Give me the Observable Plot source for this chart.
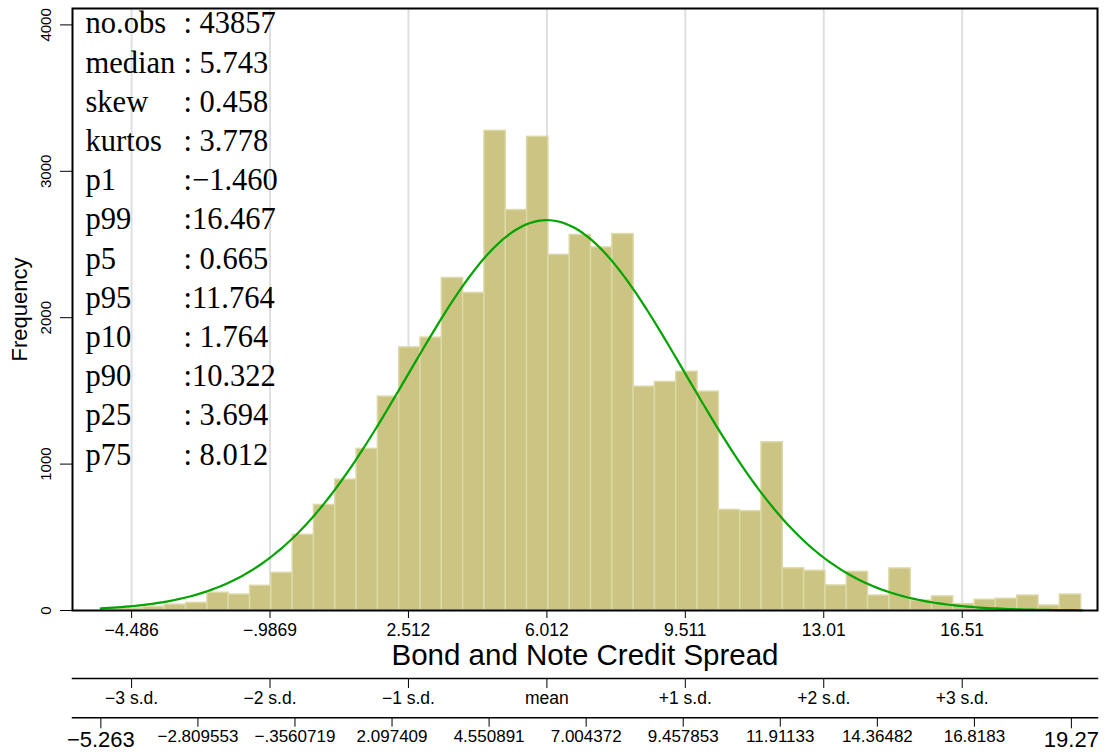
<!DOCTYPE html>
<html><head><meta charset="utf-8">
<script src="https://cdn.jsdelivr.net/npm/d3@7"></script>
<script src="https://cdn.jsdelivr.net/npm/@observablehq/plot@0.6"></script>
<style>
body{margin:0;background:#fff;overflow:hidden}
#chart svg{display:block}
</style></head><body><div id="chart"></div>
<script>
// ---- data ----
const binCounts = [8, 15, 25, 40, 52, 121, 109, 169, 257, 517, 721, 894, 1104, 1461, 1797, 1864,
  2271, 2169, 3276, 2735, 3235, 2429, 2565, 2480, 2571, 1529, 1561, 1631, 1495, 687, 678, 1149,
  288, 271, 171, 264, 102, 287, 68, 96, 44, 73, 80, 102, 34, 109];
const binStart = -5.263;
const binWidth = 0.5387;
const nObs = 43857;
const meanValue = 6.012;
const sdValue = 3.4995;
const curveBinWidth = 0.5333;
const curveRange = [-5.263, 19.53];

const sdTicks = [-4.486, -0.9869, 2.512, 6.012, 9.511, 13.01, 16.51];
const sdTickLabels = ["\u22124.486", "\u2212.9869", "2.512", "6.012", "9.511", "13.01", "16.51"];
const sdNames = ["\u22123 s.d.", "\u22122 s.d.", "\u22121 s.d.", "mean", "+1 s.d.", "+2 s.d.", "+3 s.d."];

const rangeTicks = [-5.263, -2.809553, -0.3560719, 2.097409, 4.550891, 7.004372, 9.457853, 11.91133, 14.36482, 16.8183, 19.27];
const rangeLabels = ["\u22125.263", "\u22122.809553", "\u2212.3560719", "2.097409", "4.550891", "7.004372", "9.457853", "11.91133", "14.36482", "16.8183", "19.27"];

const yTicks = [0, 1000, 2000, 3000, 4000];

const statNames = ["no.obs", "median", "skew", "kurtos", "p1", "p99", "p5", "p95", "p10", "p90", "p25", "p75"];
const statValues = [": 43857", ": 5.743", ": 0.458", ": 3.778", ":\u22121.460", ":16.467", ": 0.665", ":11.764", ": 1.764", ":10.322", ": 3.694", ": 8.012"];

// ---- derived tables ----
const bins = binCounts.map((c, i) => ({x1: binStart + i * binWidth, x2: binStart + (i + 1) * binWidth, count: c}));
const curve = d3.range(241).map(i => {
  const x = curveRange[0] + i * (curveRange[1] - curveRange[0]) / 240;
  const z = (x - meanValue) / sdValue;
  return {x, y: nObs * curveBinWidth * Math.exp(-0.5 * z * z) / (sdValue * Math.sqrt(2 * Math.PI))};
});
const sdLabelMap = new Map(sdTicks.map((t, i) => [t, sdTickLabels[i]]));
const sdNameMap = new Map(sdTicks.map((t, i) => [t, sdNames[i]]));
const rangeMap = new Map(rangeTicks.map((t, i) => [t, rangeLabels[i]]));

const W = 1113;
const xDomain = [-5.98, 19.93];
const sans = "'Liberation Sans', Arial, Helvetica, sans-serif";
const serif = "'Liberation Serif', 'Times New Roman', serif";
const common = {width: W, marginLeft: 72, marginRight: 16, style: {fontFamily: sans, background: "white", color: "black", overflow: "visible"}};

const main = Plot.plot({
  ...common,
  height: 668, marginTop: 8, marginBottom: 58,
  x: {domain: xDomain},
  y: {domain: [0, 4112]},
  marks: [
    Plot.ruleX(sdTicks, {stroke: "#dfdfdf", strokeWidth: 2}),
    Plot.rectY(bins, {x1: "x1", x2: "x2", y: "count", fill: "#cbc482", stroke: "#dcd8a8", strokeWidth: 1.5}),
    Plot.line(curve, {x: "x", y: "y", stroke: "#00a300", strokeWidth: 2.2}),
    Plot.frame({stroke: "black", strokeWidth: 2}),
    Plot.axisY({ticks: yTicks, tickFormat: d => String(d), tickSize: 12, tickPadding: 10, tickRotate: -90, textAnchor: "middle", lineAnchor: "bottom", fontSize: 15, label: null}),
    Plot.axisX({ticks: sdTicks, tickFormat: d => sdLabelMap.get(d), tickSize: 8, tickPadding: 5, fontSize: 17.5, label: null}),
    Plot.text(["Frequency"], {text: d => d, frameAnchor: "left", dx: -53, rotate: -90, fontSize: 22, lineAnchor: "middle", textAnchor: "middle"}),
    Plot.text(["Bond and Note Credit Spread"], {text: d => d, frameAnchor: "bottom", dy: 45, fontSize: 29.5, lineAnchor: "middle"}),
    Plot.text([statNames.join("\n")], {text: d => d, frameAnchor: "top-left", dx: 13, dy: -3, fontSize: 30.5, lineHeight: 39.2 / 30.5, fontFamily: serif}),
    Plot.text([statValues.join("\n")], {text: d => d, frameAnchor: "top-left", dx: 111, dy: -3, fontSize: 30.5, lineHeight: 39.2 / 30.5, fontFamily: serif})
  ]
});

const sdAxis = Plot.plot({
  ...common,
  height: 40, marginTop: 0, marginBottom: 30,
  x: {domain: xDomain},
  marks: [
    Plot.frame({anchor: "bottom", stroke: "black", strokeWidth: 1.5}),
    Plot.axisX({ticks: sdTicks, tickFormat: d => sdNameMap.get(d), tickSize: 10, tickPadding: 3, fontSize: 17.5, label: null})
  ]
});

const rangeAxis = Plot.plot({
  ...common,
  height: 46, marginTop: 0, marginBottom: 36.7,
  x: {domain: xDomain},
  marks: [
    Plot.frame({anchor: "bottom", stroke: "black", strokeWidth: 1.5}),
    Plot.axisX({ticks: rangeTicks.slice(1, -1), tickFormat: d => rangeMap.get(d), tickSize: 9.4, tickPadding: 3, fontSize: 17, label: null}),
    Plot.axisX({ticks: [rangeTicks[0], rangeTicks[rangeTicks.length - 1]], tickFormat: d => rangeMap.get(d), tickSize: 11, tickPadding: 3, fontSize: 22, label: null})
  ]
});

const el = document.getElementById("chart");
el.append(main, sdAxis, rangeAxis);
</script>
</body></html>
